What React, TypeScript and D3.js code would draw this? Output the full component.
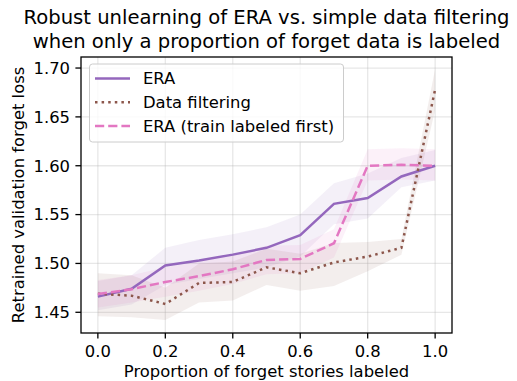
import React from "react";
import * as d3 from "d3";

// Proportion of forget stories that are labeled
const proportions = [0, 0.1, 0.2, 0.3, 0.4, 0.5, 0.6, 0.7, 0.8, 0.9, 1.0];

// ERA
const eraMean = [1.466, 1.474, 1.498, 1.503, 1.509, 1.516, 1.529, 1.561, 1.567, 1.589, 1.6];
const eraLow = [1.452, 1.458, 1.478, 1.484, 1.49, 1.496, 1.507, 1.54, 1.546, 1.578, 1.585];
const eraHigh = [1.482, 1.488, 1.516, 1.524, 1.53, 1.537, 1.55, 1.582, 1.592, 1.608, 1.616];

// Data filtering
const filtMean = [1.469, 1.467, 1.4585, 1.48, 1.481, 1.496, 1.49, 1.501, 1.507, 1.516, 1.678];
const filtLow = [1.446, 1.445, 1.442, 1.46, 1.462, 1.478, 1.472, 1.477, 1.492, 1.509, 1.657];
const filtHigh = [1.49, 1.488, 1.475, 1.5, 1.502, 1.515, 1.51, 1.521, 1.522, 1.525, 1.699];

// ERA (train labeled first)
const eraFirstMean = [1.4687, 1.4736, 1.481, 1.487, 1.494, 1.5036, 1.5046, 1.5207, 1.6, 1.601, 1.6];
const eraFirstLow = [1.455, 1.46, 1.466, 1.472, 1.479, 1.489, 1.49, 1.506, 1.585, 1.586, 1.585];
const eraFirstHigh = [1.483, 1.488, 1.496, 1.502, 1.509, 1.518, 1.519, 1.535, 1.617, 1.618, 1.617];

const xTicks = [0, 0.2, 0.4, 0.6, 0.8, 1.0];
const yTicks = [1.45, 1.5, 1.55, 1.6, 1.65, 1.7];

const W = 517;
const H = 381;
const margin = { left: 81, right: 452, top: 57, bottom: 333 };
const FONT = "DejaVu Sans, sans-serif";
const LABEL_SIZE = 16.4;

type Series = {
  name: string;
  mean: number[];
  low: number[];
  high: number[];
  color: string;
  dash: string;
};

const series: Series[] = [
  { name: "ERA", mean: eraMean, low: eraLow, high: eraHigh, color: "#9467bd", dash: "none" },
  { name: "Data filtering", mean: filtMean, low: filtLow, high: filtHigh, color: "#8c564b", dash: "2.5 4.1" },
  { name: "ERA (train labeled first)", mean: eraFirstMean, low: eraFirstLow, high: eraFirstHigh, color: "#e377c2", dash: "9.2 4" },
];

export default function App() {
  const x = d3.scaleLinear().domain([-0.05, 1.05]).range([margin.left, margin.right]);
  const y = d3.scaleLinear().domain([1.4288, 1.7113]).range([margin.bottom, margin.top]);

  const line = (vals: number[]) =>
    d3
      .line<number>()
      .x((_, i) => x(proportions[i]))
      .y((v) => y(v))(vals) || "";

  const area = (lo: number[], hi: number[]) =>
    d3
      .area<number>()
      .x((_, i) => x(proportions[i]))
      .y0((_, i) => y(lo[i]))
      .y1((_, i) => y(hi[i]))(proportions) || "";

  const cx = (margin.left + margin.right) / 2;
  const cy = (margin.top + margin.bottom) / 2;

  return (
    <svg
      width={W}
      height={H}
      style={{ position: "absolute", left: 0, top: 0, background: "#fff" }}
      fontFamily={FONT}
    >
      <rect x={0} y={0} width={W} height={H} fill="#fff" />
      <defs>
        <clipPath id="plot-area">
          <rect x={margin.left} y={margin.top} width={margin.right - margin.left} height={margin.bottom - margin.top} />
        </clipPath>
      </defs>

      {/* grid */}
      <g stroke="#b0b0b0" strokeOpacity={0.3} strokeWidth={1.3}>
        {xTicks.map((t) => (
          <line key={"gx" + t} x1={x(t)} x2={x(t)} y1={margin.top} y2={margin.bottom} />
        ))}
        {yTicks.map((t) => (
          <line key={"gy" + t} x1={margin.left} x2={margin.right} y1={y(t)} y2={y(t)} />
        ))}
      </g>

      <g clipPath="url(#plot-area)">
        {series.map((s) => (
          <path key={"band" + s.name} d={area(s.low, s.high)} fill={s.color} fillOpacity={0.1} stroke="none" />
        ))}
        {series.map((s) => (
          <path
            key={"line" + s.name}
            d={line(s.mean)}
            fill="none"
            stroke={s.color}
            strokeWidth={2.5}
            strokeDasharray={s.dash}
          />
        ))}
      </g>

      {/* spines */}
      <rect
        x={margin.left}
        y={margin.top}
        width={margin.right - margin.left}
        height={margin.bottom - margin.top}
        fill="none"
        stroke="#000"
        strokeWidth={1.3}
      />

      {/* x ticks */}
      {xTicks.map((t) => (
        <g key={"xt" + t}>
          <line x1={x(t)} x2={x(t)} y1={margin.bottom} y2={margin.bottom + 5.6} stroke="#000" strokeWidth={1.3} />
          <text x={x(t)} y={357} textAnchor="middle" fontSize={LABEL_SIZE} fill="#000">
            {t.toFixed(1)}
          </text>
        </g>
      ))}

      {/* y ticks */}
      {yTicks.map((t) => (
        <g key={"yt" + t}>
          <line x1={margin.left - 5.6} x2={margin.left} y1={y(t)} y2={y(t)} stroke="#000" strokeWidth={1.3} />
          <text x={70} y={y(t)} dy="0.36em" textAnchor="end" fontSize={LABEL_SIZE} fill="#000">
            {t.toFixed(2)}
          </text>
        </g>
      ))}

      {/* axis labels */}
      <text x={cx} y={377} textAnchor="middle" fontSize={LABEL_SIZE} fill="#000">
        Proportion of forget stories labeled
      </text>
      <text
        transform={`translate(24,${cy}) rotate(-90)`}
        textAnchor="middle"
        fontSize={LABEL_SIZE}
        fill="#000"
      >
        Retrained validation forget loss
      </text>

      {/* title */}
      <text x={cx} y={24} textAnchor="middle" fontSize={19.6} fill="#000">
        Robust unlearning of ERA vs. simple data filtering
      </text>
      <text x={cx} y={48} textAnchor="middle" fontSize={19.6} fill="#000">
        when only a proportion of forget data is labeled
      </text>

      {/* legend */}
      <g>
        <rect
          x={89.5}
          y={64}
          width={254}
          height={78}
          rx={3}
          fill="#fff"
          fillOpacity={0.8}
          stroke="#cccccc"
          strokeWidth={1}
        />
        {series.map((s, i) => {
          const ly = 78.5 + i * 23.8;
          return (
            <g key={"lg" + s.name}>
              <line
                x1={95}
                x2={130}
                y1={ly}
                y2={ly}
                stroke={s.color}
                strokeWidth={2.5}
                strokeDasharray={s.dash}
              />
              <text x={143} y={ly} dy="0.36em" fontSize={LABEL_SIZE} fill="#000">
                {s.name}
              </text>
            </g>
          );
        })}
      </g>
    </svg>
  );
}
